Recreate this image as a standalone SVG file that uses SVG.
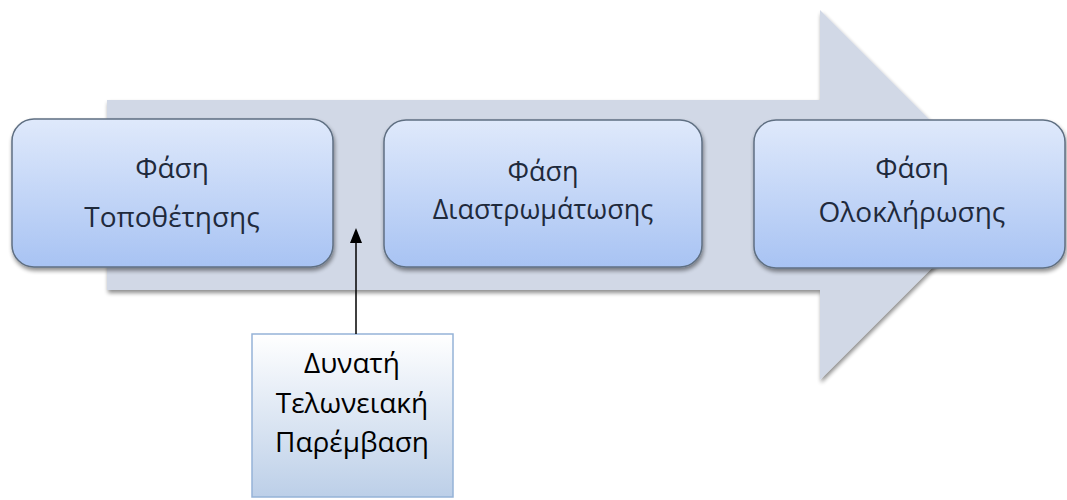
<svg xmlns="http://www.w3.org/2000/svg" width="1067" height="500" viewBox="0 0 1067 500">
<defs>
<linearGradient id="boxg" x1="0" y1="0" x2="0" y2="1">
<stop offset="0" stop-color="#dfe9fb"/>
<stop offset="1" stop-color="#a8c3f3"/>
</linearGradient>
<linearGradient id="noteg" x1="0" y1="0" x2="0" y2="1">
<stop offset="0" stop-color="#ffffff"/>
<stop offset="1" stop-color="#bccfe8"/>
</linearGradient>
<filter id="sh" x="-10%" y="-10%" width="120%" height="130%">
<feGaussianBlur in="SourceAlpha" stdDeviation="2"/>
<feOffset dx="1" dy="3" result="b"/>
<feComponentTransfer><feFuncA type="linear" slope="0.45"/></feComponentTransfer>
<feMerge><feMergeNode/><feMergeNode in="SourceGraphic"/></feMerge>
</filter>
<style>
.box{fill:url(#boxg);stroke:#5f6f82;stroke-width:1.5;filter:url(#sh)}
.t{font-family:"Open Sans","DejaVu Sans",sans-serif;font-size:28px;fill:#1f2a3c;text-anchor:middle}
.n{font-family:"Open Sans","DejaVu Sans",sans-serif;font-size:28px;fill:#000;text-anchor:middle}
</style>
</defs>
<rect width="1067" height="500" fill="#fff"/>
<g id="bigarrow">
<path d="M107,100 L820,100 L820,10 L1005,195 L820,380 L820,290 L107,290 Z" fill="#d1d8e6" filter="url(#sh)"/>
</g>
<g id="box1">
<rect class="box" x="12" y="119" width="321" height="148" rx="22"/>
<text class="t" x="172" y="178">Φάση</text>
<text class="t" x="172" y="227">Τοποθέτησης</text>
</g>
<g id="box2">
<rect class="box" x="384" y="120" width="318" height="147" rx="22"/>
<text class="t" x="543" y="181" style="font-size:27px">Φάση</text>
<text class="t" x="543" y="219" style="font-size:27px">Διαστρωμάτωσης</text>
</g>
<g id="box3">
<rect class="box" x="754" y="120" width="311" height="148" rx="22"/>
<text class="t" x="912" y="178">Φάση</text>
<text class="t" x="912" y="222">Ολοκλήρωσης</text>
</g>
<g id="note">
<rect x="252" y="334" width="201" height="163" fill="url(#noteg)" stroke="#95b3d7" stroke-width="1.5"/>
<text class="n" x="352" y="373">Δυνατή</text>
<text class="n" x="352" y="413">Τελωνειακή</text>
<text class="n" x="352" y="452">Παρέμβαση</text>
</g>
<g id="connectors">
<line x1="356" y1="334" x2="356" y2="240" stroke="#000" stroke-width="1.5"/>
<path d="M356,228 L362,243 L350,243 Z" fill="#000"/>
</g>
</svg>
